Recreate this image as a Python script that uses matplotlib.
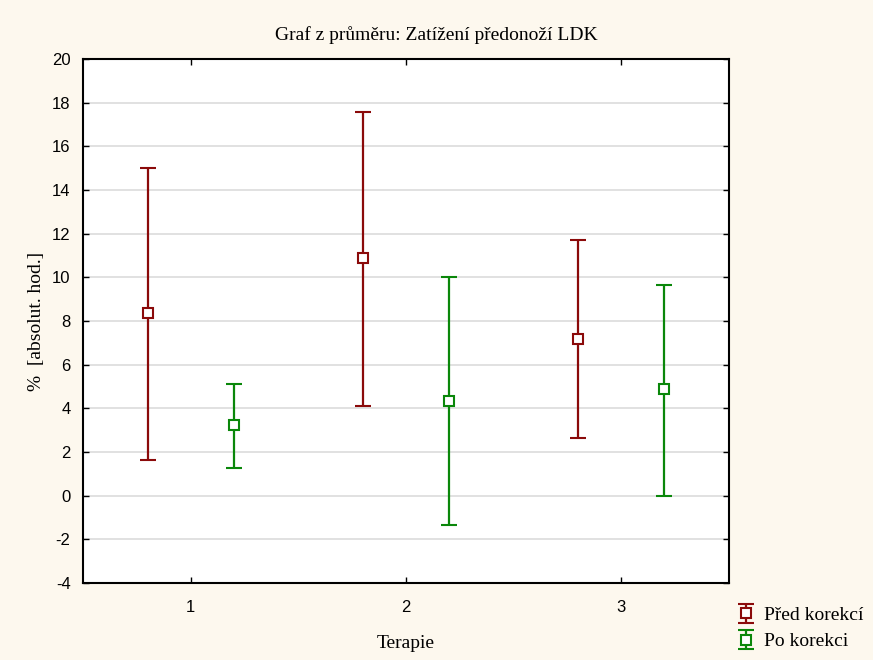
import matplotlib.pyplot as plt
import numpy as np

plt.rcParams['axes.unicode_minus'] = False

# Means and interval bounds per therapy group
terapie = [1, 2, 3]
pred_mean = [8.37, 10.88, 7.17]
pred_low = [1.63, 4.10, 2.62]
pred_high = [15.02, 17.57, 11.71]
po_mean = [3.23, 4.33, 4.87]
po_low = [1.26, -1.35, 0.0]
po_high = [5.11, 10.03, 9.67]
yticks = [-4, -2, 0, 2, 4, 6, 8, 10, 12, 14, 16, 18, 20]

serif = ['Liberation Serif', 'DejaVu Serif']
sans = ['Liberation Sans', 'DejaVu Sans']

fig = plt.figure(figsize=(8.73, 6.6), dpi=100, facecolor='#fdf8ee')
ax = fig.add_axes([0.0951, 0.1167, 0.7400, 0.7939])
ax.set_facecolor('white')

x = np.array(terapie, dtype=float)
series = [
    ('Před korekcí', x - 0.2, pred_mean, pred_low, pred_high, '#8b0a0a'),
    ('Po korekci', x + 0.2, po_mean, po_low, po_high, '#0a870a'),
]
for label, xs, m, lo, hi, col in series:
    m = np.array(m)
    err = [m - np.array(lo), np.array(hi) - m]
    ax.errorbar(xs, m, yerr=err, fmt='s', color=col, mfc='white', mec=col,
                ms=7, mew=1.5, elinewidth=1.6, capsize=6, capthick=1.6,
                label=label, zorder=3)

ax.set_xlim(0.5, 3.5)
ax.set_ylim(-4, 20)
ax.set_xticks(terapie)
ax.set_yticks(yticks)
ax.yaxis.grid(True, color='#dcdcdc', linewidth=1.2)
ax.set_axisbelow(True)

for s in ax.spines.values():
    s.set_linewidth(1.5)
    s.set_color('black')

ax.tick_params(axis='y', direction='in', length=4, width=1, left=True,
               right=True, labelsize=12, pad=9)
ax.tick_params(axis='x', direction='in', length=4, width=1, top=True,
               labelsize=12, pad=12)
for lab in ax.get_xticklabels() + ax.get_yticklabels():
    lab.set_family(sans)

# title sits centred on the whole figure
fig.suptitle('Graf z průměru: Zatížení předonoží LDK', family=serif,
             fontsize=14, x=0.5, y=0.947, va='center')
ax.set_xlabel('Terapie', family=serif, fontsize=14, labelpad=15)
ax.set_ylabel('%  [absolut. hod.]', family=serif, fontsize=14, labelpad=5)

leg = ax.legend(loc='upper left', bbox_to_anchor=(1.0, -0.03), frameon=False,
                prop={'family': serif, 'size': 14}, handlelength=0.9,
                handletextpad=0.5, labelspacing=0.45, borderaxespad=0.0)

fig.savefig('out.png', dpi=100, facecolor=fig.get_facecolor())
